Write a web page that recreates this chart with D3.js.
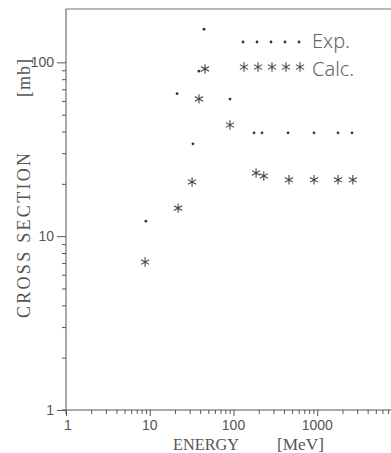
<!DOCTYPE html>
<html>
<head>
<meta charset="utf-8">
<script src="https://cdn.jsdelivr.net/npm/d3@7"></script>
<style>
  body { margin: 0; background: #fff; }
  svg { display: block; }
</style>
</head>
<body>
<div id="chart"></div>
<script>
// energies in MeV, cross sections in mb
const expEnergy = [9.0, 21.2, 32.8, 38.7, 44.4, 90.8, 176, 219, 448, 915, 1770, 2600];
const expSigma  = [12.2, 66, 34, 89, 155, 61.5, 39.3, 39.3, 39.3, 39.3, 39.3, 39.3];

const calcEnergy = [8.8, 21.8, 32, 38.7, 45.7, 90.8, 186, 230, 460, 915, 1770, 2660];
const calcSigma  = [7.1, 14.5, 20.5, 61.6, 91.6, 43.6, 23.1, 22.2, 21.1, 21.1, 21.1, 21.1];

const xMajor = [1, 10, 100, 1000, 10000];
const xLabels = ['1', '10', '100', '1000'];
const yMajor = [1, 10, 100];
const yLabels = ['1', '10', '100'];

const W = 391, H = 453;
const plotLeft = 66, plotBottom = 410, plotTop = 10;

const svg = d3.select('#chart')
  .append('svg')
  .attr('width', W)
  .attr('height', H);

const x = d3.scaleLog().domain([1, 10000]).range([plotLeft, plotLeft + 4 * 83.75]);
const y = d3.scaleLog().domain([1, 200]).range([plotBottom, plotTop]);

const ink = '#555';

// minor ticks 2..9 per decade
const minors = (decades) => decades.flatMap(d => d3.range(2, 10).map(k => k * d));
const xMinor = minors([1, 10, 100, 1000]);
const yMinor = minors([1, 10]);

// frame lines
svg.append('line')
  .attr('x1', plotLeft).attr('x2', W)
  .attr('y1', y(200) - 1).attr('y2', y(200) - 1)
  .attr('stroke', '#777').attr('stroke-width', 1.2);

svg.append('line')
  .attr('x1', plotLeft).attr('x2', plotLeft)
  .attr('y1', y(200) - 1).attr('y2', plotBottom + 4)
  .attr('stroke', ink).attr('stroke-width', 1);

svg.append('line')
  .attr('x1', plotLeft - 4).attr('x2', W)
  .attr('y1', plotBottom).attr('y2', plotBottom)
  .attr('stroke', ink).attr('stroke-width', 1);

// x axis ticks
const gx = svg.append('g').attr('transform', `translate(0,${plotBottom})`);
gx.call(d3.axisBottom(x).tickValues(xMinor).tickSize(4).tickFormat(''));
gx.append('g').call(d3.axisBottom(x).tickValues(xMajor).tickSize(6).tickFormat(''));
gx.selectAll('.domain').remove();
gx.selectAll('.tick line').attr('stroke', ink);

svg.selectAll('.xlab')
  .data(xLabels)
  .enter()
  .append('text')
  .attr('class', 'xlab')
  .attr('x', (d, i) => x(xMajor[i]) + (i === 0 ? 2 : 0))
  .attr('y', 430)
  .attr('text-anchor', 'middle')
  .attr('font-family', 'Liberation Sans, Arial, sans-serif')
  .attr('font-size', 14)
  .attr('fill', ink)
  .text(d => d);

// y axis ticks
const gy = svg.append('g').attr('transform', `translate(${plotLeft},0)`);
gy.call(d3.axisLeft(y).tickValues(yMinor).tickSize(4).tickFormat(''));
gy.append('g').call(d3.axisLeft(y).tickValues(yMajor).tickSize(9).tickFormat(''));
gy.selectAll('.domain').remove();
gy.selectAll('.tick line').attr('stroke', ink);

svg.selectAll('.ylab')
  .data(yLabels)
  .enter()
  .append('text')
  .attr('class', 'ylab')
  .attr('x', plotLeft - 12)
  .attr('y', (d, i) => y(yMajor[i]) + 5)
  .attr('text-anchor', 'end')
  .attr('font-family', 'Liberation Sans, Arial, sans-serif')
  .attr('font-size', 14)
  .attr('fill', ink)
  .text(d => d);

// axis titles
const serif = 'Liberation Serif, Times New Roman, serif';
svg.append('text')
  .attr('x', 173).attr('y', 450)
  .attr('font-family', serif).attr('font-size', 17)
  .attr('textLength', 66).attr('lengthAdjust', 'spacingAndGlyphs')
  .attr('fill', ink)
  .text('ENERGY');
svg.append('text')
  .attr('x', 277).attr('y', 450)
  .attr('font-family', serif).attr('font-size', 17)
  .attr('textLength', 47).attr('lengthAdjust', 'spacingAndGlyphs')
  .attr('fill', ink)
  .text('[MeV]');

svg.append('text')
  .attr('transform', 'translate(30,318) rotate(-90)')
  .attr('font-family', serif).attr('font-size', 18)
  .attr('textLength', 165)
  .attr('fill', ink)
  .text('CROSS SECTION');
svg.append('text')
  .attr('transform', 'translate(30,97) rotate(-90)')
  .attr('font-family', serif).attr('font-size', 18)
  .attr('textLength', 38)
  .attr('fill', ink)
  .text('[mb]');

// data
const expData = expEnergy.map((e, i) => ({ e, s: expSigma[i] }));
const calcData = calcEnergy.map((e, i) => ({ e, s: calcSigma[i] }));

const star = d3.symbol().type(d3.symbolAsterisk).size(62);

svg.selectAll('.exp')
  .data(expData)
  .enter()
  .append('circle')
  .attr('class', 'exp')
  .attr('cx', d => x(d.e))
  .attr('cy', d => y(d.s))
  .attr('r', 1.4)
  .attr('fill', '#333');

svg.selectAll('.calc')
  .data(calcData)
  .enter()
  .append('path')
  .attr('class', 'calc')
  .attr('d', star)
  .attr('transform', d => `translate(${x(d.e)},${y(d.s)})`)
  .attr('fill', 'none')
  .attr('stroke', '#444')
  .attr('stroke-width', 1.1);

// legend
const legend = svg.append('g');
const legX = d3.range(5).map(i => 243 + i * 14);
legend.selectAll('.ld')
  .data(legX)
  .enter()
  .append('circle')
  .attr('cx', d => d)
  .attr('cy', 42)
  .attr('r', 1.4)
  .attr('fill', '#333');
legend.selectAll('.ls')
  .data(legX)
  .enter()
  .append('path')
  .attr('d', star)
  .attr('transform', d => `translate(${d + 1},67)`)
  .attr('fill', 'none')
  .attr('stroke', '#444')
  .attr('stroke-width', 1.1);

const sans = 'Noto Sans, DejaVu Sans, sans-serif';
legend.append('text')
  .attr('x', 312).attr('y', 48)
  .attr('font-family', sans).attr('font-size', 20)
  .attr('font-weight', 300)
  .attr('fill', '#666')
  .text('Exp.');
legend.append('text')
  .attr('x', 312).attr('y', 76)
  .attr('font-family', sans).attr('font-size', 20)
  .attr('font-weight', 300)
  .attr('fill', '#666')
  .text('Calc.');
</script>
</body>
</html>
